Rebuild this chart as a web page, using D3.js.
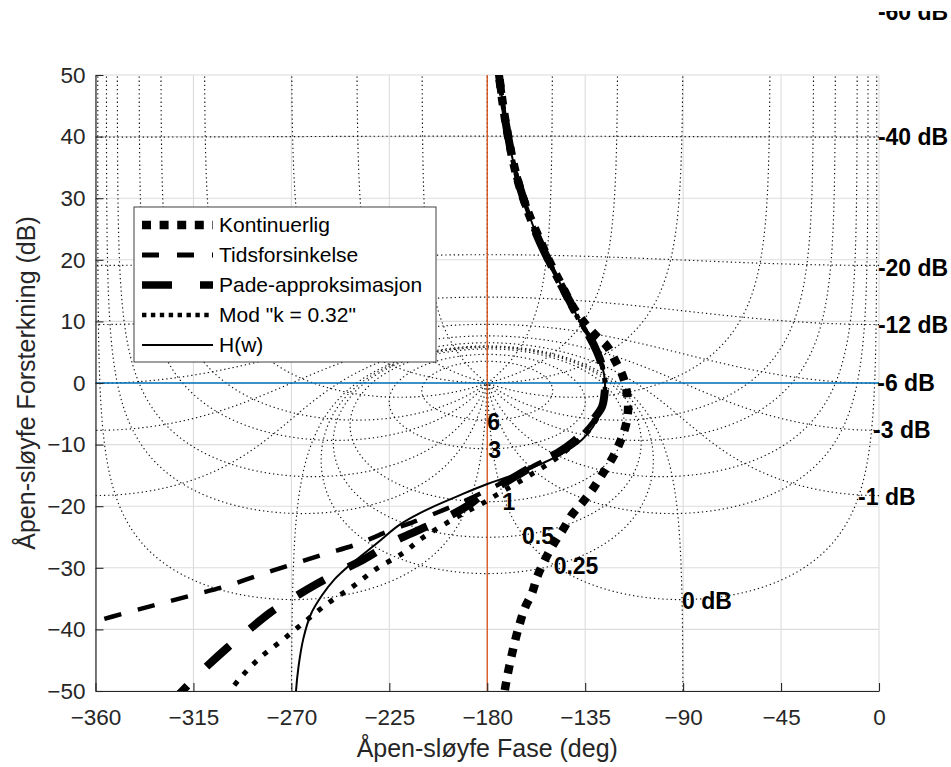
<!DOCTYPE html>
<html>
<head>
<meta charset="utf-8">
<script src="https://cdn.jsdelivr.net/npm/d3@7"></script>
<style>
  body { margin: 0; background: #fff; }
  text { font-family: "Liberation Sans", Arial, Helvetica, sans-serif; }
</style>
</head>
<body>
<svg id="chart" width="951" height="767"></svg>
<script>
// ---- axis ticks ----
const phaseTicks = [-360, -315, -270, -225, -180, -135, -90, -45, 0];
const gainTicks = [50, 40, 30, 20, 10, 0, -10, -20, -30, -40, -50];

// ---- Nichols grid levels (closed-loop gain in dB, closed-loop phase in deg) ----
const closedLoopGains = [6, 3, 1, 0.5, 0.25, 0, -1, -3, -6, -12, -20, -40, -60];
const closedLoopPhases = [-1, -5, -10, -20, -30, -50, -90, -120, -150, -180,
                          -210, -240, -270, -310, -330, -340, -350, -355, -359];

// grid labels and their anchors (phase deg, gain dB)
const gridLabelText  = ["6", "3", "1", "0.5", "0.25", "0 dB", "-1 dB", "-3 dB", "-6 dB", "-12 dB", "-20 dB", "-40 dB", "-60 dB"];
const gridLabelPhase = [-180, -179.5, -173, -164, -149.5, -90.5, -9.6, -2.7, -0.8, -0.5, -0.5, -0.5, -0.5];
const gridLabelGain  = [-6.3, -10.9, -19.3, -24.8, -29.7, -35.4, -18.5, -7.6, 0, 9.4, 18.7, 39.9, 60.2];

// ---- open-loop responses (phase deg, gain dB) ----
const kontinuerligPhase = [-175.2, -174.6, -171.4, -166.8, -161.5, -156.5, -151.5, -146, -140.5, -135, -129.8, -125, -120.9, -117.6, -115.8, -115.3, -116.5, -119, -122.2, -127.3, -131.9, -136.5, -141.1, -145.2, -149.8, -153.5, -157.1, -159.4, -162.7, -165, -168.2, -171.9, -172.4];
const kontinuerligGain  = [52, 50, 42, 34, 28, 23.8, 19.8, 16, 12.3, 9.6, 7.6, 6.0, 3.4, 1.0, -1.6, -4.4, -7.1, -9.6, -12, -14.9, -17.4, -19.5, -21.4, -23.8, -26.3, -28.7, -31.5, -34.1, -36.5, -39, -43.3, -49.8, -51.5];

const tidsPhase = [-175.2, -174.6, -171.4, -166.8, -161.5, -157, -152, -147, -142, -137.5, -133, -129.5, -127, -125.9, -126.2, -127.3, -131.5, -140, -150, -160, -170, -180, -190, -200, -212, -225, -240, -255, -270, -285, -300, -315, -330, -345, -362];
const tidsGain  = [52, 50, 42, 34, 28, 23.8, 20, 16.5, 13.2, 10, 7.5, 5, 2.5, 0, -2, -3.9, -6.3, -9.5, -11.8, -13.7, -15.6, -17.4, -19.1, -20.6, -22.3, -24.0, -26.2, -27.8, -29.5, -31.2, -33.0, -34.4, -35.8, -37.2, -38.9];

const padePhase = [-175.2, -174.6, -171.4, -166.8, -161.5, -157, -152, -147, -142, -137.5, -133, -129.5, -127, -125.9, -126.2, -127.3, -131.4, -135, -140.6, -147.9, -154.7, -161, -168.2, -174.1, -181, -189.3, -199.8, -212.3, -222.8, -237, -246.2, -258.2, -269.2, -279.8, -290.3, -299.5, -310.6, -321.5];
const padeGain  = [52, 50, 42, 34, 28, 23.8, 20, 16.5, 13.2, 10, 7.5, 5, 2.5, 0, -2, -3.9, -6.0, -7.6, -9.6, -11.4, -12.6, -13.9, -15.4, -16.6, -17.8, -20.0, -22.0, -24.0, -25.7, -28.7, -30.3, -32.6, -34.9, -37.3, -40.3, -43.0, -46.6, -50.5];

const modPhase = [-175.2, -174.6, -171.4, -166.8, -161.5, -157, -152, -147, -142, -137.5, -133, -129.5, -127, -125.9, -126.2, -127.3, -128.5, -133, -140, -147, -154, -161, -168, -175, -181, -190, -200, -210, -218.7, -231.5, -242, -253, -264, -274, -284.4, -293.5, -300.5];
const modGain  = [52, 50, 42, 34, 28, 23.8, 20, 16.5, 13.2, 10, 7.5, 5, 2.5, 0, -2, -3.9, -5, -7.6, -9.9, -11.9, -13.6, -15.1, -16.6, -18.0, -19.3, -21.0, -23.0, -25.2, -27.6, -30.3, -33.1, -35.7, -38.8, -41.7, -44.6, -47.9, -51];

const hPhase = [-175.2, -174.6, -171.4, -166.8, -161.5, -157, -152, -147, -142, -137.5, -133, -129.5, -127, -125.9, -126.2, -127.3, -131.4, -136.5, -145.2, -154.4, -162, -171, -180, -192.5, -205, -214, -221, -230, -237, -243, -250, -256, -261, -264.5, -266.7, -267.9, -268.1];
const hGain  = [52, 50, 42, 34, 28, 23.8, 20, 16.5, 13.2, 10, 7.5, 5, 2.5, 0, -2, -3.9, -7.1, -9.2, -11.4, -13.0, -14.1, -15.3, -16.4, -18.2, -20.1, -21.7, -23.2, -25.8, -27.8, -29.5, -31.8, -34.5, -37.5, -41.5, -46, -50.1, -51.5];

const seriesNames = ["Kontinuerlig", "Tidsforsinkelse", "Pade-approksimasjon", "Mod \"k = 0.32\"", "H(w)"];

// ---- layout ----
const svg = d3.select("#chart");
const x = d3.scaleLinear().domain([-360, 0]).range([95.5, 879]);
const y = d3.scaleLinear().domain([-50, 50]).range([691, 75]);
const axisColor = "#262626";

const defs = svg.append("defs");
defs.append("clipPath").attr("id", "plotClip")
  .append("rect").attr("x", x(-360)).attr("y", y(50))
  .attr("width", x(0) - x(-360)).attr("height", y(-50) - y(50));
defs.append("clipPath").attr("id", "labelClip")
  .append("rect").attr("x", 0).attr("y", 11).attr("width", 951).attr("height", 756);

// major grid
const gridG = svg.append("g");
gridG.selectAll("line.v").data(phaseTicks).join("line")
  .attr("x1", d => x(d)).attr("x2", d => x(d)).attr("y1", y(50)).attr("y2", y(-50))
  .attr("stroke", "#dcdcdc").attr("stroke-width", 1.1);
gridG.selectAll("line.h").data(gainTicks).join("line")
  .attr("y1", d => y(d)).attr("y2", d => y(d)).attr("x1", x(-360)).attr("x2", x(0))
  .attr("stroke", "#dcdcdc").attr("stroke-width", 1.1);

// ---- Nichols grid contours (drawn with the gain axis mirrored) ----
function gainContour(db) {
  const m = Math.pow(10, db / 20);
  const pts = [];
  const N = 4000;
  if (Math.abs(m - 1) < 1e-9) {
    for (let k = 1; k < N; k++) {
      const u = -Math.PI / 2 + Math.PI * k / N;
      const re = -0.5, im = Math.tan(u) / 2;
      let ph = Math.atan2(im, re) * 180 / Math.PI;
      if (ph > 0) ph -= 360;
      pts.push([ph, -20 * Math.log10(Math.hypot(re, im))]);
    }
    return pts;
  }
  const C = -m * m / (m * m - 1), R = m / Math.abs(m * m - 1);
  let prev = 0;
  for (let k = 0; k <= N; k++) {
    const phi = -2 * Math.PI * k / N;
    const re = C + R * Math.cos(phi), im = R * Math.sin(phi);
    let ph = Math.atan2(im, re) * 180 / Math.PI;
    if (m > 1) {
      if (ph > 0) ph -= 360;
    } else {
      if (k === 0) ph = 0;
      while (ph - prev > 180) ph -= 360;
      while (ph - prev < -180) ph += 360;
      prev = ph;
    }
    pts.push([ph, -20 * Math.log10(Math.hypot(re, im))]);
  }
  return pts;
}

function phaseContour(psiDeg) {
  const pr = (((psiDeg % 360) + 540) % 360) - 180;
  const pts = [[psiDeg, 300]];
  if (Math.abs(Math.abs(pr) - 180) < 1e-9) { pts.push([psiDeg, 0]); return pts; }
  const psi = pr * Math.PI / 180;
  const bEnd = pr < 0 ? Math.PI + psi : psi - Math.PI;
  const N = 4000;
  for (let k = 1; k < N; k++) {
    const b = bEnd * k / N;
    const s = Math.sin(b) / Math.sin(b - psi);
    const wr = 1 - s * Math.cos(psi), wi = -s * Math.sin(psi);
    const gDb = 20 * Math.log10(s) - 20 * Math.log10(Math.hypot(wr, wi));
    pts.push([psiDeg - b * 180 / Math.PI, -gDb]);
  }
  pts.push([-180, 0]);
  return pts;
}

const contourLine = d3.line()
  .defined(d => isFinite(d[0]) && isFinite(d[1]))
  .x(d => x(d[0])).y(d => y(Math.max(-400, Math.min(400, d[1]))));

const contourG = svg.append("g").attr("clip-path", "url(#plotClip)");
const contourStyle = sel => sel.attr("fill", "none").attr("stroke", "#111")
  .attr("stroke-width", 1.15).attr("stroke-dasharray", "1.3,2.9");
closedLoopGains.forEach(g => contourG.append("path").attr("d", contourLine(gainContour(g))).call(contourStyle));
closedLoopPhases.forEach(p => contourG.append("path").attr("d", contourLine(phaseContour(p))).call(contourStyle));

// reference lines: 0 dB and -180 deg
const refG = svg.append("g").attr("clip-path", "url(#plotClip)");
refG.append("line").attr("x1", x(-360)).attr("x2", x(0)).attr("y1", y(0)).attr("y2", y(0))
  .attr("stroke", "#0072BD").attr("stroke-width", 1.3);
refG.append("line").attr("x1", x(-180)).attr("x2", x(-180)).attr("y1", y(50)).attr("y2", y(-50))
  .attr("stroke", "#D95319").attr("stroke-width", 1.3);

// ---- axes ----
const xAxis = svg.append("g").attr("transform", `translate(0,${y(-50)})`)
  .call(d3.axisBottom(x).tickValues(phaseTicks).tickSize(-8).tickSizeOuter(0).tickPadding(17).tickFormat(d3.format("d")));
const yAxis = svg.append("g").attr("transform", `translate(${x(-360)},0)`)
  .call(d3.axisLeft(y).tickValues(gainTicks).tickSize(-8).tickSizeOuter(0).tickPadding(10).tickFormat(d3.format("d")));
[xAxis, yAxis].forEach(a => {
  a.select(".domain").attr("stroke", axisColor).attr("stroke-width", 1.2);
  a.selectAll(".tick line").attr("stroke", axisColor).attr("stroke-width", 1.1);
  a.selectAll(".tick text").attr("fill", axisColor).style("font-size", "22.5px")
    .style("font-family", "'Liberation Sans', Arial, Helvetica, sans-serif");
});
xAxis.selectAll(".tick text").attr("dy", "0.35em").attr("y", 26);

svg.append("text").attr("x", (x(-360) + x(0)) / 2).attr("y", 757)
  .attr("text-anchor", "middle").attr("fill", axisColor).style("font-size", "25px")
  .text("Åpen-sløyfe Fase (deg)");
svg.append("text").attr("transform", `translate(35,${(y(50) + y(-50)) / 2}) rotate(-90)`)
  .attr("text-anchor", "middle").attr("fill", axisColor).style("font-size", "25px")
  .text("Åpen-sløyfe Forsterkning (dB)");

// ---- response curves ----
const styles = [
  { w: 8.5, dash: "8.5,8.5", legendW: 8.7, legendDash: "9,8.6" },
  { w: 4.5, dash: "17.5,17", legendW: 5, legendDash: "17,18" },
  { w: 8, dash: "31,27", legendW: 7.7, legendDash: "30,28" },
  { w: 5, dash: "5,9", legendW: 4.5, legendDash: "4.4,4.5" },
  { w: 2, dash: null, legendW: 2, legendDash: null }
];
const seriesData = [
  d3.zip(kontinuerligPhase, kontinuerligGain),
  d3.zip(tidsPhase, tidsGain),
  d3.zip(padePhase, padeGain),
  d3.zip(modPhase, modGain),
  d3.zip(hPhase, hGain)
];
const curve = d3.line().x(d => x(d[0])).y(d => y(d[1])).curve(d3.curveCatmullRom.alpha(0.5));
const curveG = svg.append("g").attr("clip-path", "url(#plotClip)");
seriesData.forEach((data, i) => {
  curveG.append("path").attr("d", curve(data)).attr("fill", "none")
    .attr("stroke", "#000").attr("stroke-width", styles[i].w)
    .attr("stroke-dasharray", styles[i].dash).attr("stroke-linecap", "butt")
    .attr("stroke-linejoin", "round");
});

// ---- grid labels ----
const labelG = svg.append("g").attr("clip-path", "url(#labelClip)");
labelG.selectAll("text").data(gridLabelText).join("text")
  .attr("x", (d, i) => x(gridLabelPhase[i])).attr("y", (d, i) => y(gridLabelGain[i]))
  .attr("dy", "0.35em").attr("fill", "#000")
  .style("font-size", "23px").style("font-weight", "bold")
  .text(d => d);

// ---- legend ----
const legend = svg.append("g");
legend.append("rect").attr("x", 134).attr("y", 207).attr("width", 302).attr("height", 155)
  .attr("fill", "#fff").attr("stroke", "#404040").attr("stroke-width", 1);
seriesNames.forEach((name, i) => {
  const ly = 225 + i * 30;
  legend.append("line").attr("x1", 142).attr("x2", 213).attr("y1", ly).attr("y2", ly)
    .attr("stroke", "#000").attr("stroke-width", styles[i].legendW)
    .attr("stroke-dasharray", styles[i].legendDash).attr("stroke-linecap", "butt");
  legend.append("text").attr("x", 219).attr("y", ly).attr("dy", "0.35em")
    .attr("fill", "#000").style("font-size", "21px").text(name);
});
</script>
</body>
</html>
